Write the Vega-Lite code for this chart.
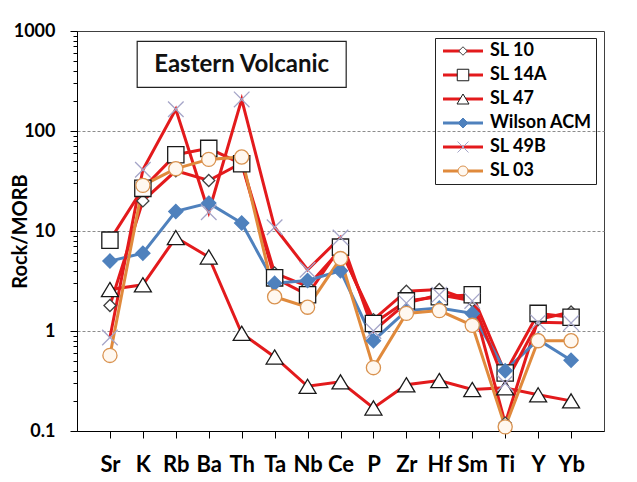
{
  "$schema": "https://vega.github.io/schema/vega-lite/v6.json",
  "width": 527,
  "height": 400,
  "autosize": {"type": "none"},
  "padding": {"left": 77, "top": 31, "right": 33, "bottom": 51},
  "background": "white",
  "config": {
    "font": "Lato",
    "view": {"stroke": "#404040", "strokeWidth": 1},
    "axis": {"domainColor": "#000", "tickColor": "#000", "labelColor": "#000", "labelFont": "Lato", "labelFontWeight": "bold", "titleColor": "#000", "titleFont": "Lato", "titleFontWeight": "bold"}
  },
  "datasets": {
    "rock": [
      {"el": "Sr", "s": "SL 10", "v": 1.8}, {"el": "K", "s": "SL 10", "v": 20}, {"el": "Rb", "s": "SL 10", "v": 40}, {"el": "Ba", "s": "SL 10", "v": 32}, {"el": "Th", "s": "SL 10", "v": 48}, {"el": "Ta", "s": "SL 10", "v": 3.8}, {"el": "Nb", "s": "SL 10", "v": 2.8}, {"el": "Ce", "s": "SL 10", "v": 6.5}, {"el": "P", "s": "SL 10", "v": 1.3}, {"el": "Zr", "s": "SL 10", "v": 2.5}, {"el": "Hf", "s": "SL 10", "v": 2.6}, {"el": "Sm", "s": "SL 10", "v": 2.0}, {"el": "Ti", "s": "SL 10", "v": 0.12}, {"el": "Y", "s": "SL 10", "v": 1.3}, {"el": "Yb", "s": "SL 10", "v": 1.55},
      {"el": "Sr", "s": "SL 14A", "v": 8.1}, {"el": "K", "s": "SL 14A", "v": 26.7}, {"el": "Rb", "s": "SL 14A", "v": 58}, {"el": "Ba", "s": "SL 14A", "v": 67}, {"el": "Th", "s": "SL 14A", "v": 47}, {"el": "Ta", "s": "SL 14A", "v": 3.4}, {"el": "Nb", "s": "SL 14A", "v": 2.3}, {"el": "Ce", "s": "SL 14A", "v": 6.9}, {"el": "P", "s": "SL 14A", "v": 1.19}, {"el": "Zr", "s": "SL 14A", "v": 2.0}, {"el": "Hf", "s": "SL 14A", "v": 2.2}, {"el": "Sm", "s": "SL 14A", "v": 2.3}, {"el": "Ti", "s": "SL 14A", "v": 0.38}, {"el": "Y", "s": "SL 14A", "v": 1.5}, {"el": "Yb", "s": "SL 14A", "v": 1.37},
      {"el": "Sr", "s": "SL 47", "v": 2.6}, {"el": "K", "s": "SL 47", "v": 2.9}, {"el": "Rb", "s": "SL 47", "v": 8.6}, {"el": "Ba", "s": "SL 47", "v": 5.5}, {"el": "Th", "s": "SL 47", "v": 0.95}, {"el": "Ta", "s": "SL 47", "v": 0.55}, {"el": "Nb", "s": "SL 47", "v": 0.28}, {"el": "Ce", "s": "SL 47", "v": 0.31}, {"el": "P", "s": "SL 47", "v": 0.17}, {"el": "Zr", "s": "SL 47", "v": 0.29}, {"el": "Hf", "s": "SL 47", "v": 0.32}, {"el": "Sm", "s": "SL 47", "v": 0.26}, {"el": "Ti", "s": "SL 47", "v": 0.27}, {"el": "Y", "s": "SL 47", "v": 0.23}, {"el": "Yb", "s": "SL 47", "v": 0.2},
      {"el": "Sr", "s": "Wilson ACM", "v": 5.0}, {"el": "K", "s": "Wilson ACM", "v": 6.0}, {"el": "Rb", "s": "Wilson ACM", "v": 15.7}, {"el": "Ba", "s": "Wilson ACM", "v": 19}, {"el": "Th", "s": "Wilson ACM", "v": 12}, {"el": "Ta", "s": "Wilson ACM", "v": 3.0}, {"el": "Nb", "s": "Wilson ACM", "v": 3.2}, {"el": "Ce", "s": "Wilson ACM", "v": 4.0}, {"el": "P", "s": "Wilson ACM", "v": 0.8}, {"el": "Zr", "s": "Wilson ACM", "v": 1.6}, {"el": "Hf", "s": "Wilson ACM", "v": 1.7}, {"el": "Sm", "s": "Wilson ACM", "v": 1.5}, {"el": "Ti", "s": "Wilson ACM", "v": 0.4}, {"el": "Y", "s": "Wilson ACM", "v": 0.82}, {"el": "Yb", "s": "Wilson ACM", "v": 0.51},
      {"el": "Sr", "s": "SL 49B", "v": 0.86}, {"el": "K", "s": "SL 49B", "v": 41}, {"el": "Rb", "s": "SL 49B", "v": 165}, {"el": "Ba", "s": "SL 49B", "v": 15.4}, {"el": "Th", "s": "SL 49B", "v": 207}, {"el": "Ta", "s": "SL 49B", "v": 10.9}, {"el": "Nb", "s": "SL 49B", "v": 4.1}, {"el": "Ce", "s": "SL 49B", "v": 8.6}, {"el": "P", "s": "SL 49B", "v": 1.0}, {"el": "Zr", "s": "SL 49B", "v": 1.9}, {"el": "Hf", "s": "SL 49B", "v": 2.3}, {"el": "Sm", "s": "SL 49B", "v": 2.0}, {"el": "Ti", "s": "SL 49B", "v": 0.3}, {"el": "Y", "s": "SL 49B", "v": 1.22}, {"el": "Yb", "s": "SL 49B", "v": 1.2},
      {"el": "Sr", "s": "SL 03", "v": 0.57}, {"el": "K", "s": "SL 03", "v": 28.6}, {"el": "Rb", "s": "SL 03", "v": 42}, {"el": "Ba", "s": "SL 03", "v": 52}, {"el": "Th", "s": "SL 03", "v": 55}, {"el": "Ta", "s": "SL 03", "v": 2.2}, {"el": "Nb", "s": "SL 03", "v": 1.73}, {"el": "Ce", "s": "SL 03", "v": 5.3}, {"el": "P", "s": "SL 03", "v": 0.43}, {"el": "Zr", "s": "SL 03", "v": 1.5}, {"el": "Hf", "s": "SL 03", "v": 1.6}, {"el": "Sm", "s": "SL 03", "v": 1.14}, {"el": "Ti", "s": "SL 03", "v": 0.11}, {"el": "Y", "s": "SL 03", "v": 0.8}, {"el": "Yb", "s": "SL 03", "v": 0.8}
    ],
    "note": [{"label": "Eastern Volcanic"}]
  },
  "layer": [
    {
      "data": {"name": "rock"},
      "mark": {"type": "line", "strokeWidth": 3},
      "encoding": {
        "x": {
          "field": "el", "type": "nominal",
          "scale": {"type": "point", "padding": 1, "domain": ["Sr", "K", "Rb", "Ba", "Th", "Ta", "Nb", "Ce", "P", "Zr", "Hf", "Sm", "Ti", "Y", "Yb"]},
          "axis": {"title": null, "labelAngle": 0, "labelFontSize": 22, "tickSize": 7, "labelPadding": 16, "grid": false, "domainColor": "#000"}
        },
        "y": {
          "field": "v", "type": "quantitative",
          "scale": {"type": "log", "domain": [0.1, 1000], "nice": false},
          "axis": {
            "title": "Rock/MORB", "titleFontSize": 20, "titleX": -57, "titleY": 200, "titleAngle": 270, "titleBaseline": "middle", "titleAlign": "center",
            "values": [0.1, 0.2, 0.3, 0.4, 0.5, 0.6, 0.7, 0.8, 0.9, 1, 2, 3, 4, 5, 6, 7, 8, 9, 10, 20, 30, 40, 50, 60, 70, 80, 90, 100, 200, 300, 400, 500, 600, 700, 800, 900, 1000],
            "format": "~g",
            "labelExpr": "indexof([0.1, 1, 10, 100, 1000], datum.value) >= 0 ? datum.label : ''",
            "labelOverlap": false,
            "labelFontSize": 18,
            "labelPadding": 15,
            "tickSize": {"condition": {"test": "indexof([0.1, 1, 10, 100, 1000], datum.value) >= 0", "value": 7}, "value": 4},
            "grid": true,
            "gridColor": "#8c8c8c",
            "gridDash": [3, 2],
            "gridWidth": 1,
            "gridOpacity": {"condition": {"test": "indexof([1, 10, 100], datum.value) >= 0", "value": 1}, "value": 0}
          }
        },
        "order": {"value": null},
        "color": {
          "field": "s", "type": "nominal",
          "sort": ["SL 10", "SL 14A", "SL 47", "Wilson ACM", "SL 49B", "SL 03"],
          "scale": {"range": ["#E31A1C", "#E31A1C", "#E31A1C", "#4F81BD", "#E31A1C", "#E08A3C"]},
          "legend": {
            "orient": "none", "legendX": 358, "legendY": 7, "title": null,
            "strokeColor": "#222", "padding": 4,
            "symbolType": "M-4,0H4", "symbolSize": 100, "symbolStrokeWidth": 3, "symbolOffset": 15,
            "labelOffset": 18, "labelFont": "Lato", "labelFontSize": 18, "labelFontWeight": "bold", "labelColor": "#000",
            "rowPadding": 6, "labelExpr": "datum.label + ' '"
          }
        }
      }
    },
    {
      "data": {"name": "rock"},
      "mark": {"type": "point", "size": 200, "strokeWidth": 1.3, "opacity": 1},
      "encoding": {
        "x": {"field": "el", "type": "nominal"},
        "y": {"field": "v", "type": "quantitative"},
        "shape": {
          "field": "s", "type": "nominal",
          "scale": {
            "domain": ["SL 10", "SL 14A", "SL 47", "Wilson ACM", "SL 49B", "SL 03"],
            "range": ["M0,-0.85L0.85,0L0,0.85L-0.85,0Z", "M-1.15,-1.15H1.15V1.15H-1.15Z", "M0,-1L1.2,1H-1.2Z", "M0,-1L1,0L0,1L-1,0Z", "M-1.1,-1.1L1.1,1.1M-1.1,1.1L1.1,-1.1", "circle"]
          },
          "legend": {
            "orient": "none", "legendX": 358, "legendY": 7, "title": null, "padding": 4,
            "symbolSize": 100, "symbolStrokeWidth": 1, "symbolOffset": 15,
            "labelOffset": 18, "labelFont": "Lato", "labelFontSize": 18, "labelFontWeight": "bold", "labelColor": "transparent",
            "rowPadding": 6, "labelExpr": "datum.label + ' '"
          }
        },
        "fill": {
          "field": "s", "type": "nominal",
          "scale": {"domain": ["SL 10", "SL 14A", "SL 47", "Wilson ACM", "SL 49B", "SL 03"], "range": ["#FFFFFF", "#FFFFFF", "#FFFFFF", "#4F81BD", "#FFFFFF", "#FFF8F0"]}
        },
        "stroke": {
          "field": "s", "type": "nominal",
          "scale": {"domain": ["SL 10", "SL 14A", "SL 47", "Wilson ACM", "SL 49B", "SL 03"], "range": ["#404040", "#1a1a1a", "#1a1a1a", "#4F81BD", "#A5A5C8", "#D9924F"]}
        }
      }
    },
    {
      "data": {"name": "note"},
      "mark": {"type": "point", "shape": "M-1,-0.22H1V0.22H-1Z", "size": 43681, "filled": true, "fill": "white", "stroke": "#222", "strokeWidth": 1.2, "opacity": 1},
      "encoding": {"x": {"datum": "Th", "type": "nominal"}, "y": {"datum": 464, "type": "quantitative"}}
    },
    {
      "data": {"name": "note"},
      "mark": {"type": "text", "font": "Lato", "fontSize": 24, "fontWeight": "bold", "color": "#111", "align": "center", "baseline": "middle", "dy": 1},
      "encoding": {"x": {"datum": "Th", "type": "nominal"}, "y": {"datum": 464, "type": "quantitative"}, "text": {"field": "label", "type": "nominal"}}
    }
  ]
}
